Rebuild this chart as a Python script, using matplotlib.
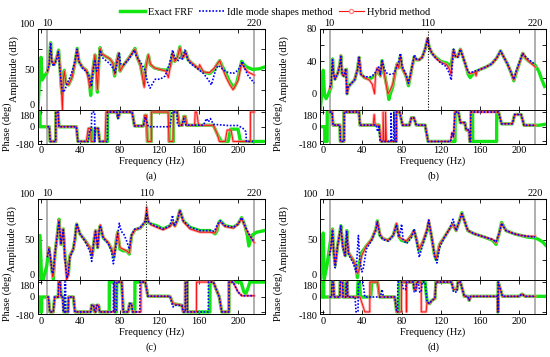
import matplotlib
matplotlib.use("Agg")
import matplotlib.pyplot as plt
from matplotlib.lines import Line2D
import numpy as np

plt.rcParams['font.family'] = ['Liberation Serif', 'DejaVu Serif']
plt.rcParams['axes.unicode_minus'] = False

# ---- data: (frequency Hz, value) ----
# panel (a)
A_EXACT_AMP = [(-3, 0), (-1.5, 37), (0, 65), (1.2, 37), (4, 43), (6.5, 47), (8.3, 56), (9.8, 83), (11, 60), (13.5, 56),
               (16.3, 66), (17.9, 74), (19.2, 55), (20.6, 29), (21.6, 20), (22.7, 40), (23.7, 49), (25.3, 33), (28, 31),
               (31.5, 40), (34.5, 58), (36.8, 76), (38.5, 60), (42, 53), (46, 49), (48.5, 42), (50.5, 18), (51.8, 40),
               (53.3, 55), (54.8, 68), (56, 50), (57.3, 22), (58.6, 55), (60, 77), (62, 69), (66, 66), (70, 63), (73, 58),
               (74.8, 42), (76.5, 58), (78.8, 70), (80.3, 48), (83, 54), (88, 62), (92.5, 70), (95.4, 76), (98, 64),
               (101, 55), (103.5, 40), (104.8, 32), (106.5, 55), (109, 68), (111, 56), (115, 52), (121, 50), (128, 49),
               (131.5, 55), (133.6, 70), (135.8, 60), (138.5, 65), (141, 78), (143.5, 64), (145, 66), (146.8, 72),
               (149.5, 62), (153, 58), (158, 53), (165, 47), (171, 45), (176, 50), (179, 57), (181.5, 61), (184, 54),
               (187, 47), (191.5, 35), (196, 27), (199, 35), (201.5, 48), (203.7, 60), (206, 56), (209, 53), (215, 50),
               (222, 51), (227, 53)]
A_IDLE_AMP = [(6.5, 48), (8.3, 56), (9.8, 83), (11, 60), (12.5, 54), (15.9, 62), (17.6, 72), (19.3, 49), (21, 29),
              (22.7, 22), (24.4, 25), (26, 31), (31, 45), (34.5, 60), (36.5, 75), (38.5, 60), (42, 52), (48, 45),
              (50.5, 33), (51.4, 29), (53, 49), (54.8, 62), (56.5, 48), (58, 52), (59.9, 74), (62, 65), (66, 61),
              (70, 57), (74, 50), (75.5, 46), (77.5, 60), (79.5, 70), (80.8, 57), (84, 56), (88.7, 62), (92, 68),
              (94.5, 74), (97, 66), (99, 63), (102, 57), (105.6, 49), (108, 35), (110.7, 27), (113, 32), (116, 38),
              (121, 38), (126, 42), (130, 55), (133.7, 74), (136, 64), (139.4, 61), (141.5, 65), (143.5, 63),
              (146.1, 74), (149, 62), (152, 57), (158, 52), (165, 45), (170, 37), (173, 31), (175.5, 42), (177.5, 50),
              (179.8, 55), (182, 53), (188, 47), (195, 45), (200, 49), (204.4, 60), (206.5, 52), (210, 43), (216.5, 33)]
A_HYBRID_AMP = [(6.5, 47), (8.3, 56), (9.8, 82), (11, 60), (13.5, 56), (16.3, 66), (17.9, 73), (19.2, 54), (20.6, 28),
                (21.8, 0), (22.7, 38), (23.7, 48), (25.3, 33), (28, 31), (31.5, 40), (34.5, 58), (36.8, 75), (38.5, 60),
                (42, 53), (46, 49), (48.5, 36), (49.5, 27), (51, 36), (53.3, 55), (54.8, 68), (56, 50), (57.3, 25),
                (58.6, 55), (60, 76), (62, 69), (66, 66), (70, 63), (73, 58), (74.8, 44), (76.5, 58), (78.8, 70),
                (80.3, 48), (83, 54), (88, 62), (92.5, 70), (95.4, 75), (98, 64), (101, 55), (103.5, 38), (104.8, 28),
                (106.5, 52), (109, 68), (111, 57), (115, 52), (121, 50), (127, 48), (129.3, 40), (131.5, 55),
                (133.6, 70), (135.8, 60), (138.5, 65), (141, 77), (143.5, 64), (145, 66), (146.8, 72), (149.5, 62),
                (153, 58), (158, 53), (160, 50), (161, 56), (165, 47), (171, 46), (176, 52), (179, 57), (181.5, 61),
                (184, 52), (188, 40), (191.8, 31), (195, 25), (200.3, 37), (203.7, 58), (206, 53), (210, 47), (216.5, 43)]
A_EXACT_PH = [(-3, 180), (-1, 180), (-0.9, 0), (8.5, 0), (9.3, -180), (15, -180), (15.1, 180), (17.3, 180), (18.3, 0),
              (36, 0), (37.5, -180), (47.5, -180), (49, -20), (51, -20), (51.5, -180), (54, -180), (55, -20), (58, -20),
              (59.5, -180), (67.5, -180), (67.6, 180), (77, 180), (78.5, 110), (80, 180), (92.5, 180), (95, 10),
              (104, 10), (105.5, 140), (107, 140), (108, -180), (112, -180), (112.1, 180), (130, 180), (130.1, -180),
              (134.5, -180), (134.6, 180), (138.5, 180), (140.5, 18), (143.5, 18), (145, 126), (146.5, 126), (148, 18),
              (175, 18), (179, -90), (183, -180), (190, -180), (192.5, -30), (200, -30), (202.5, -180), (227, -180)]
A_IDLE_PH = [(6.5, 0), (8.5, 0), (9.3, -180), (15, -180), (15.1, 180), (17.3, 180), (18.3, 0), (36, 0), (37.5, -180),
             (48, -180), (49.5, -40), (51.2, -40), (51.5, 180), (54.5, 180), (54.6, -180), (55, -20), (58, -20),
             (59.5, -180), (67.5, -180), (67.6, 180), (77, 180), (78, 100), (80, 180), (92.5, 180), (95, 10), (104, 10),
             (106, 120), (107.5, 60), (109, 0), (131, 0), (133, 180), (138, 180), (138.5, 40), (140, 10), (143, 20),
             (145, 100), (147, 20), (165, 20), (168, 100), (170, 60), (172, 100), (175, 30), (190, 15), (200, 15),
             (205, -20), (208, -60), (208.5, -180), (216.5, -180)]
A_HYBRID_PH = [(6.5, 0), (8.5, 0), (9.3, -180), (15, -180), (15.1, 180), (17.3, 180), (18.3, 0), (36, 0), (37.5, -180),
               (46, -180), (48, -20), (50.5, -20), (51, -180), (54, -180), (55, -20), (58, -20), (59.5, -180),
               (65, -180), (66, 180), (77, 180), (78.5, 110), (80, 180), (92.5, 180), (95, 10), (104, 10), (105.5, 140),
               (107, 140), (108, -180), (112, -180), (112.1, 180), (129, 180), (130, -180), (134, -180), (134.6, 180),
               (138.5, 180), (140.5, 18), (143.5, 18), (145, 126), (146.5, 126), (148, 18), (156, 18), (156.5, 180),
               (158, 180), (160, 18), (175, 18), (179, -90), (181, -180), (187, -180), (189, -40), (193, -40),
               (195, -180), (212.5, -180), (212.6, 180), (216.5, 180)]

# panel (b)
B_EXACT_AMP = [(-3, -20), (-1, 10), (0, 29), (1.3, -2), (3, -6), (5.3, 0), (8, 8), (9.5, 43), (10.5, 25), (12, 18),
               (15, 26), (17, 36), (18, 47), (19.3, 24), (21, 22), (23, 30), (23.8, 30), (24.3, 0), (25.5, 8), (28, 12),
               (32, 17), (35, 30), (36.6, 45), (38.5, 24), (42, 20), (47.5, 18), (52, 22), (55, 26), (57, 31),
               (58.3, 22), (60, 41), (62.5, 24), (64.5, 12), (66, 2), (67, -7), (68.5, 0), (71, 9), (74, 30), (75.5, 37),
               (77, 32), (78.8, 47), (80.5, 32), (84.5, 22), (87, 10), (89, 22), (91, 35), (93, 46), (95, 42), (98, 42),
               (101, 45), (104, 55), (106.5, 68), (108, 58), (111, 50), (115, 45), (120, 40), (126, 38), (130, 34),
               (131.5, 42), (133, 54), (135, 46), (137.5, 46), (140, 55), (142.5, 46), (145.5, 35), (148, 24),
               (150, 20), (152.5, 24), (155, 27), (160, 30), (166, 33), (172, 37), (177, 44), (181, 53), (184, 46),
               (188, 37), (191.5, 27), (194.6, 16), (197, 26), (200, 37), (203.6, 50), (206.5, 44), (210, 40),
               (216.5, 35), (220, 28), (223, 18), (226, 9)]
B_IDLE_AMP = [(6.5, 8), (8, 12), (9.5, 42), (10.5, 25), (12, 18), (15, 26), (17, 36), (18, 46), (19.3, 24), (21, 22),
              (23, 31), (24.3, 0), (25.5, 9), (28, 12), (32, 17), (35, 30), (36.6, 45), (38.5, 24), (42, 21), (48, 21),
              (52, 24), (55, 30), (56.5, 33), (58.3, 24), (60, 42), (62, 32), (64, 26), (68, 24), (72, 25), (75, 33),
              (77, 40), (78.8, 50), (80.5, 34), (84.5, 24), (87, 13), (89, 24), (91, 36), (93, 48), (95, 43), (98, 42),
              (101, 45), (104, 55), (106.5, 68), (108, 58), (111, 50), (115, 44), (120, 38), (125, 34), (128.5, 26),
              (130.7, 17), (132, 40), (133, 55), (135, 46), (137.5, 45), (140, 55), (142.5, 46), (145.5, 35), (148, 27),
              (150, 26), (155, 28), (160, 30), (166, 33), (172, 37), (177, 44), (181, 53), (184, 46), (188, 37),
              (191.5, 27), (194.6, 18), (197, 28), (200, 38), (203.6, 50), (206.5, 46), (210, 42), (216.5, 36)]
B_HYBRID_AMP = [(6.5, 6), (8, 10), (9.5, 42), (10.5, 25), (12, 18), (15, 26), (17, 36), (18, 47), (19.3, 24), (21, 22),
                (23, 30), (24.3, 0), (25.5, 8), (28, 12), (32, 17), (35, 30), (36.6, 45), (38.5, 24), (42, 20), (47, 17),
                (50, 12), (52.4, 0), (53.5, 26), (55, 32), (57, 28), (58.3, 22), (60, 40), (62.5, 24), (64.5, 10),
                (66, 0), (67, 2), (68.5, 5), (71, 12), (74, 30), (75.5, 37), (77, 32), (78.8, 47), (80.5, 32),
                (84.5, 22), (87, 12), (89, 22), (91, 35), (93, 46), (95, 42), (98, 42), (101, 45), (104, 55),
                (106.5, 69), (108, 58), (111, 50), (115, 44), (120, 39), (126, 36), (129, 30), (130.5, 24), (131.5, 42),
                (133, 54), (135, 46), (137.5, 46), (140, 55), (142.5, 46), (145.5, 35), (148, 26), (150, 25), (155, 27),
                (156, 22), (157, 28), (160, 30), (166, 33), (172, 37), (177, 44), (181, 53), (184, 46), (188, 37),
                (191.5, 27), (194.6, 17), (197, 27), (200, 37), (203.6, 50), (206.5, 44), (210, 40), (216.5, 33)]
B_EXACT_PH = [(-3, 0), (1.5, 0), (1.6, -180), (4, -180), (4.1, 180), (9, 180), (10, 20), (17, 20), (17.5, -180),
              (21, -180), (21.1, 180), (36.5, 180), (37.5, 20), (57, 20), (59, -180), (74.5, -180), (74.6, 180),
              (78, 180), (81, 20), (88, 20), (90, 110), (92.5, 110), (95, 20), (104, 20), (107, -180), (134.5, -180),
              (134.6, 180), (138, 180), (140, 50), (144.5, 50), (146, -40), (149, -40), (149.5, -180), (151, -180),
              (151.1, 180), (152.5, 180), (152.6, -180), (177, -180), (177.1, 180), (179, 180), (182, 36), (193, 36),
              (195.5, 150), (202, 150), (205, 18), (220, 18), (227, 30)]
B_IDLE_PH = [(6.5, 180), (9, 180), (10, 20), (17, 20), (17.5, -180), (21.5, -180), (21.6, 180), (36.5, 180), (37.5, 20),
             (54, 20), (55.5, -60), (57, 20), (58, -180), (69, -180), (69.1, 180), (70, -180), (72, -180), (72.1, 180),
             (73, -180), (74.5, -180), (74.6, 180), (78, 180), (81, 20), (88, 20), (90, 110), (92.5, 110), (95, 20),
             (104, 20), (107, -180), (130, -180), (131.5, -80), (133, -120), (134.5, 180), (138, 180), (140, 50),
             (144.5, 50), (146, -40), (149, -40), (149.5, -180), (150.5, -180), (150.6, 180), (179, 180), (182, 36),
             (193, 36), (195.5, 150), (202, 150), (205, 18), (216.5, 18)]
B_HYBRID_PH = [(6.5, 180), (9, 180), (10, 20), (17, 20), (17.5, -180), (21, -180), (21.1, 180), (36.5, 180),
               (37.5, 20), (51, 20), (52, 150), (53, 20), (57, 20), (59, -180), (61, -180), (61.1, 180), (62, -180),
               (63.5, -180), (63.6, 180), (64.5, -180), (74.5, -180), (74.6, 180), (78, 180), (81, 20), (88, 20),
               (90, 110), (92.5, 110), (95, 20), (104, 20), (107, -180), (130, -180), (131.5, -70), (133, -130),
               (134.5, 180), (138, 180), (140, 50), (144.5, 50), (146, -40), (149, -40), (149.5, -180), (150.5, -180),
               (150.6, 180), (179, 180), (182, 36), (193, 36), (195.5, 150), (202, 150), (205, 18), (216.5, 18)]

# panel (c)
C_EXACT_AMP = [(-3, 0), (-1, 55), (0.7, 0), (2.4, 1), (5.8, 17), (8.1, 40), (9.1, 30), (12.5, 1), (14.2, 32),
               (16.5, 55), (18.3, 75), (20.3, 44), (22.7, 63), (24.4, 28), (27.7, 6), (29.4, 30), (32.8, 38),
               (34.5, 50), (36.2, 69), (39.6, 57), (44.7, 49), (49.7, 40), (52, 30), (54, 50), (55.4, 61), (57.5, 40),
               (59, 61), (60.2, 67), (63.2, 52), (68.3, 46), (71.7, 38), (74, 28), (75.8, 44), (77.8, 59), (80.2, 38),
               (83.6, 36), (87, 36), (89.7, 32), (92, 55), (95.4, 62), (100.5, 64), (105.6, 71), (107.3, 80), (109, 71),
               (112, 69), (117.4, 67), (124, 63), (131, 67), (133.6, 71), (136, 67), (138.5, 74), (141, 86),
               (144.5, 73), (151.3, 65), (161.4, 61), (171.6, 61), (176.7, 57), (178.5, 60), (180.5, 71), (182, 73),
               (186.8, 67), (195.3, 65), (200, 69), (203.7, 77), (207, 67), (209.5, 55), (211, 42), (213.8, 55),
               (218.9, 59), (227, 61)]
C_IDLE_AMP = [(6.5, 28), (8.1, 38), (9.1, 34), (11.5, 8), (12.5, 10), (14.2, 32), (16.5, 55), (18.3, 73), (20.3, 44),
              (22.7, 62), (24.4, 25), (26.5, 2), (27.7, 8), (29.4, 28), (32.8, 38), (34.5, 52), (36.2, 70), (39.6, 57),
              (44.7, 48), (49.7, 35), (51.5, 23), (53, 42), (55.4, 60), (57.5, 40), (59, 60), (60.2, 67), (63.2, 52),
              (68.3, 45), (71.7, 35), (73.5, 20), (75.8, 40), (77.8, 55), (79.5, 70), (81.5, 60), (84, 57), (87, 48),
              (89.7, 38), (92, 56), (95.4, 63), (100.5, 64), (105.6, 72), (107.3, 82), (109, 72), (112, 69),
              (117.4, 66), (124, 63), (131, 67), (133.6, 80), (135, 67), (138.5, 74), (141, 86), (144.5, 73),
              (151.3, 65), (161.4, 61), (171.6, 61), (176, 60), (178.5, 67), (180.5, 71), (182, 73), (186.8, 67),
              (195.3, 65), (200, 69), (203.7, 77), (207, 67), (211, 57), (216.5, 47)]
C_HYBRID_AMP = [(6.5, 30), (8.1, 40), (9.1, 32), (12, 4), (12.5, 6), (14.2, 32), (16.5, 55), (18.3, 74), (20.3, 44),
                (22.7, 63), (24.4, 28), (26, 0), (27.7, 6), (29.4, 30), (32.8, 38), (34.5, 50), (36.2, 69), (39.6, 57),
                (44.7, 49), (49.7, 40), (52, 30), (54, 50), (55.4, 61), (57.5, 40), (59, 61), (60.2, 68), (63.2, 53),
                (68.3, 46), (71.7, 38), (74, 30), (75.8, 44), (77.8, 59), (80.2, 40), (83.6, 38), (87, 36), (89.7, 33),
                (92, 55), (95.4, 62), (100.5, 64), (105.6, 72), (107.3, 90), (109, 72), (112, 68), (117.4, 65),
                (124, 62), (131, 66), (133.6, 71), (136, 66), (138.5, 74), (141, 86), (144.5, 72), (151.3, 63),
                (161.4, 59), (171.6, 59), (176.7, 58), (180.5, 70), (182, 72), (186.8, 66), (195.3, 64), (200, 69),
                (203.7, 76), (207, 66), (211, 56), (216.5, 46)]
C_EXACT_PH = [(-3, 0), (-1, 0), (-0.9, -180), (0.7, -180), (0.8, 0), (7.5, 0), (9, -180), (12.5, -180), (14, 0),
              (17.6, 0), (18, 180), (19.5, 180), (20.5, 0), (22.5, 0), (23, -180), (27.5, -180), (28, 0), (33, 0),
              (34.5, -180), (50.5, -180), (51.5, -100), (53.5, -100), (54.5, -180), (55.5, -180), (56.5, -100),
              (58.5, -100), (59.5, -180), (69.3, -180), (69.4, 180), (75, 180), (75.1, -180), (76.5, -180), (77, 180),
              (82, 180), (83.5, -180), (88.5, -180), (90, -80), (92, -80), (93, -180), (95.3, -180), (95.4, 180),
              (106, 180), (108.5, 10), (131, 8), (134, -80), (143, -100), (144.5, -180), (146.5, -180), (146.6, 180),
              (148.5, 180), (148.6, -180), (171.5, -180), (171.6, 180), (175, 180), (179, 60), (181, 0),
              (183.5, -180), (190.8, -180), (190.9, 180), (203, 180), (206, 60), (208, 40), (210, 100), (212, 180),
              (227, 180)]
C_IDLE_PH = [(6.5, 0), (7.5, 0), (9, -180), (12.5, -180), (14, 0), (17.6, 0), (18, 180), (19.5, 180), (20.5, 0),
             (22, 0), (22.5, -180), (24, -180), (24.1, 180), (25, 180), (25.1, -180), (27.5, -180), (28, 0), (33, 0),
             (34.5, -180), (50.5, -180), (51.5, -100), (53.5, -100), (54.5, -180), (55.5, -180), (56.5, -100),
             (58.5, -100), (59.5, -180), (73.5, -180), (73.6, 180), (74.5, 180), (74.6, -180), (76.5, -180), (77, 180),
             (82, 180), (83.5, -180), (88.5, -180), (90, -80), (92, -80), (93, -180), (100.4, -180), (100.5, 180),
             (106, 180), (108.5, 10), (131, 8), (134, -120), (136, -100), (143, -100), (144.5, -180), (146.5, -180),
             (146.6, 180), (148.5, 180), (148.6, -180), (169.9, -180), (170, 180), (175, 180), (179, 60), (181, 0),
             (183.5, -180), (190.8, -180), (190.9, 180), (195, 180), (200, 60), (204, 15), (216.5, 15)]
C_HYBRID_PH = [(6.5, 0), (7.5, 0), (9, -180), (12.5, -180), (14, 0), (17.6, 0), (18, 180), (19.5, 180), (20.5, 0),
               (22.5, 0), (23, -180), (27.5, -180), (28, 0), (33, 0), (34.5, -180), (50.5, -180), (51.5, -100),
               (53.5, -100), (54.5, -180), (55.5, -180), (56.5, -100), (58.5, -100), (59.5, -180), (75, -180),
               (75.1, 180), (82, 180), (83.5, -180), (88.5, -180), (90, -80), (92, -80), (93, -180), (101.5, -180),
               (101.6, 180), (106, 180), (108.5, 10), (131, 8), (134, -80), (143, -100), (144.5, -180), (146.5, -180),
               (146.6, 180), (148.5, 180), (148.6, -180), (157.8, -180), (157.9, 180), (175, 180), (179, 60), (181, 0),
               (183.5, -180), (190.8, -180), (190.9, 180), (195, 180), (200, 60), (204, 15), (216.5, 15)]

# panel (d)
D_EXACT_AMP = [(-3, 0), (-1, 30), (0, 58), (1, 1), (3.8, 18), (7, 45), (9.5, 63), (10.5, 38), (12.2, 18), (14.6, 42),
               (16.5, 55), (18, 67), (20, 42), (22.4, 30), (24, 61), (25.7, 34), (30.8, 24), (33.5, 17), (34.9, 3),
               (36.5, 18), (39.3, 34), (44, 42), (49.4, 50), (53.8, 63), (55.2, 73), (57.9, 55), (61, 51), (66.4, 49),
               (71.4, 55), (74.8, 69), (77.5, 53), (79.9, 49), (85, 47), (90, 55), (92.7, 61), (95, 51), (97.8, 36),
               (101.9, 47), (106, 61), (107.7, 71), (110.4, 55), (113.7, 30), (115.4, 25), (118.8, 44), (123.8, 53),
               (128.9, 63), (132.3, 69), (135.7, 61), (139, 73), (141.5, 83), (144.2, 73), (145.9, 67), (147.6, 61),
               (154.3, 57), (164.5, 53), (172.9, 49), (176.4, 44), (179.7, 58), (182.1, 71), (186.5, 61), (195, 57),
               (201.7, 55), (208.5, 53), (216.3, 52), (220, 50), (224, 47), (227, 43)]
D_IDLE_AMP = [(6.5, 30), (7.8, 40), (9.5, 62), (10.5, 38), (12.2, 15), (14.6, 42), (16.5, 55), (18, 67), (20, 40),
              (22.4, 30), (24, 60), (25.7, 32), (30.8, 20), (33.5, 10), (35.9, 55), (37.3, 25), (39.5, 10), (41, 15),
              (44, 38), (49.4, 49), (53.8, 62), (55.2, 72), (57.9, 55), (61, 50), (66.4, 48), (71.4, 55), (74.8, 68),
              (77, 53), (78.5, 58), (80, 69), (81.5, 50), (85, 45), (90, 52), (92.7, 63), (95, 50), (98, 28),
              (101.9, 45), (106, 61), (107.7, 74), (110.4, 55), (113.7, 30), (116, 21), (118.8, 40), (123.8, 53),
              (128.9, 63), (132.5, 75), (135.7, 61), (139, 73), (141.5, 82), (144.2, 73), (145.9, 67), (147.6, 61),
              (154.3, 57), (164.5, 53), (172.9, 50), (176.4, 47), (179.7, 58), (182.1, 70), (186.5, 61), (195, 57),
              (201.7, 55), (208.5, 54), (216.3, 53)]
D_HYBRID_AMP = [(6.5, 33), (7.8, 40), (9.5, 62), (10.5, 38), (12.2, 18), (14.6, 42), (16.5, 55), (18, 66), (20, 42),
                (22.4, 30), (24, 60), (25.7, 34), (30.8, 24), (33.5, 16), (35, 8), (36.5, 12), (39.3, 30), (44, 42),
                (49.4, 50), (53.8, 63), (55.2, 72), (57.9, 57), (61, 51), (66.4, 49), (71.4, 55), (74.8, 70),
                (77.5, 53), (79.9, 51), (85, 48), (90, 55), (92.7, 61), (95, 51), (97.8, 38), (101.9, 48), (106, 63),
                (107.7, 74), (110.4, 55), (113.7, 31), (115.4, 26), (118.8, 44), (123.8, 53), (128.9, 63), (132.3, 69),
                (135.7, 61), (139, 73), (141.5, 82), (144.2, 73), (145.9, 67), (147.6, 61), (154.3, 57), (164.5, 53),
                (172.9, 50), (176.4, 46), (179.7, 58), (182.1, 70), (186.5, 61), (195, 57), (201.7, 55), (208.5, 54),
                (216.3, 54)]
D_EXACT_PH = [(-3, 0), (-0.5, 0), (-0.4, 180), (0.5, 180), (0.6, 0), (8.5, 0), (9, 180), (10.5, 180), (11, 0), (17, 0),
              (17.3, 180), (19.8, 180), (20.2, 0), (23.2, 0), (23.5, 180), (24.6, 180), (25, 0), (35, 0), (35.5, 180),
              (37, 180), (38, 0), (48.5, 0), (49.5, 180), (55.5, 180), (57.5, 0), (73, 0), (75, -180), (77.4, -180),
              (77.5, 180), (92, 180), (93, 90), (94.5, 90), (95.5, 180), (104, 180), (106, -60), (108.5, -80),
              (111, -40), (114, -20), (115, 180), (131, 180), (133, 90), (136.5, 90), (137.5, 180), (140, 180),
              (144, 8), (147.5, 8), (149, -40), (150.5, 8), (178, 8), (178.1, -180), (178.5, -180), (178.6, 180),
              (183, 8), (200, 8), (203, 35), (206, 8), (227, 8)]
D_IDLE_PH = [(6.5, 0), (8.5, 0), (9, 180), (10.5, 180), (11, 0), (17, 0), (17.3, 180), (19.8, 180), (20.2, 0),
             (23.2, 0), (23.5, 180), (24.6, 180), (25, 0), (32.5, 0), (33.5, -180), (35.5, -180), (36, 180),
             (40.5, 180), (42.5, 0), (58.5, 0), (60, 90), (61.5, 0), (73, 0), (75, -180), (76, -180), (76.1, 180),
             (80, 180), (82, 90), (84, 90), (85, 180), (92, 180), (93, 60), (94.5, 60), (95.5, 180), (97, 180),
             (98.5, 60), (100, 60), (101, 180), (104, 180), (106, -60), (108.5, -80), (111, -40), (114, -20),
             (115, 180), (131, 180), (133, 60), (136.5, 60), (137.5, 180), (140, 180), (144, 8), (147.5, 8),
             (149, -40), (150.5, 8), (178, 8), (178.1, -180), (178.5, -180), (178.6, 180), (183, 8), (200, 8),
             (203, 35), (206, 8), (216.5, 8)]
D_HYBRID_PH = [(6.5, 0), (8.5, 0), (9, 180), (10.5, 180), (11, 0), (17, 0), (17.3, 180), (19.8, 180), (20.2, 0),
               (23.2, 0), (23.5, 180), (24.6, 180), (25, 0), (37.5, 0), (42.5, -180), (47.5, -180), (47.6, 180),
               (55.5, 180), (57.5, 0), (73, 0), (75, -180), (79.9, -180), (80, 180), (84.7, 180), (84.8, -180),
               (85.2, -180), (85.3, 180), (92, 180), (93, 90), (94.5, 90), (95.5, 180), (100, 180), (100.1, -180),
               (105, -180), (106, -60), (108.5, -80), (111, -40), (114, -20), (115, 180), (131, 180), (133, 90),
               (136.5, 90), (137.5, 180), (140, 180), (144, 8), (147.5, 8), (149, -40), (150.5, 8), (178, 8),
               (178.1, -180), (178.5, -180), (178.6, 180), (183, 8), (200, 8), (203, 35), (206, 8), (216.5, 8)]

TOP_TICKS = [6.5, 107, 216.5]
TOP_LABELS = ['10', '110', '220']

GREEN = '#12e612'
BLUE = '#0000ff'
RED = '#ff1010'
PINK = '#ff8a8a'
W, H = 550, 357
XLIM = (-3.3, 227.4)


def rect(l, t, r, b):
    return [l / W, 1 - b / H, (r - l) / W, (b - t) / H]


def curve(ax, pts, kind):
    pts = np.array(pts, dtype=float)
    if kind == 'exact':
        ax.plot(pts[:, 0], pts[:, 1], color=GREEN, lw=2.4, zorder=2, solid_joinstyle='round')
    elif kind == 'hybrid':
        ax.plot(pts[:, 0], pts[:, 1], color=PINK, lw=2.0, alpha=0.75, zorder=3)
        ax.plot(pts[:, 0], pts[:, 1], color=RED, lw=0.7, zorder=4)
    else:
        ax.plot(pts[:, 0], pts[:, 1], color=BLUE, lw=1.2, ls=(0, (1, 1)), zorder=5)


def style(ax):
    ax.tick_params(direction='in', top=True, right=True, labelsize=7.5, length=3, width=0.6, pad=2)
    for s in ax.spines.values():
        s.set_linewidth(0.7)


def panel(box, amp, phase, ylim, yticks, ylabels, top_idx, dotted, tag, lab_x, shift_edges):
    l, t, r, b, mid = box
    ax = plt.axes(rect(l, t, r, mid))
    axp = plt.axes(rect(l, mid, r, b))
    for pts, kind in zip(amp, ['exact', 'hybrid', 'idle']):
        curve(ax, pts, kind)
    for pts, kind in zip(phase, ['exact', 'hybrid', 'idle']):
        curve(axp, pts, kind)

    for a in (ax, axp):
        a.set_xlim(*XLIM)
        a.set_xticks([0, 40, 80, 120, 160, 200])
        style(a)
        a.axvline(TOP_TICKS[0], color='#9a9a9a', lw=1.1, zorder=1)
        a.axvline(TOP_TICKS[2], color='#9a9a9a', lw=1.1, zorder=1)
    if dotted:
        ax.axvline(TOP_TICKS[1], color='k', lw=0.8, ls=(0, (1, 1.5)), zorder=6)

    ax.set_ylim(*ylim)
    ax.set_yticks(yticks)
    ax.set_yticklabels(ylabels)
    ax.tick_params(labelbottom=False)
    if shift_edges:
        lbls = ax.get_yticklabels()
        lbls[0].set_va('bottom')
        lbls[-1].set_va('bottom')
    ax.set_ylabel('Amplitude (dB)', fontsize=7.5)
    ax.yaxis.set_label_coords(lab_x[0], 0.5)

    axp.set_ylim(-205, 205)
    axp.set_yticks([-180, 0, 180])
    plbls = axp.get_yticklabels()
    plbls[0].set_va('top')
    plbls[2].set_va('top')
    axp.set_ylabel('Phase (deg)', fontsize=7.5)
    axp.yaxis.set_label_coords(lab_x[1], 0.5)
    axp.set_xlabel('Frequency (Hz)', fontsize=7.5, labelpad=1)

    sec = ax.secondary_xaxis('top')
    sec.set_xticks([TOP_TICKS[i] for i in top_idx])
    sec.set_xticklabels([TOP_LABELS[i] for i in top_idx])
    sec.tick_params(length=0, labelsize=7.5, pad=1)

    fig.text((l + r) / 2 / W, 1 - (b + 33) / H, tag, ha='center', va='center', fontsize=7.5)
    return ax, axp


fig = plt.figure(figsize=(5.5, 3.57), dpi=100)

amp_ticks = [0, 25, 50, 75, 100]
amp_labels = ['0', '', '50', '', '100']
panel((37.7, 29, 265, 143.5, 110), [A_EXACT_AMP, A_HYBRID_AMP, A_IDLE_AMP], [A_EXACT_PH, A_HYBRID_PH, A_IDLE_PH],
      (0, 100), amp_ticks, amp_labels, [0, 2], False, '(a)', (-0.082, -0.115), True)
panel((320, 29, 546, 143.5, 110), [B_EXACT_AMP, B_HYBRID_AMP, B_IDLE_AMP], [B_EXACT_PH, B_HYBRID_PH, B_IDLE_PH],
      (-20, 80), [-20, 0, 20, 40, 60, 80], ['', '0', '', '40', '', '80'], [0, 1, 2], True, '(b)',
      (-0.137, -0.165), False)
panel((37.7, 199, 265, 314, 280), [C_EXACT_AMP, C_HYBRID_AMP, C_IDLE_AMP], [C_EXACT_PH, C_HYBRID_PH, C_IDLE_PH],
      (0, 100), amp_ticks, amp_labels, [0, 1, 2], True, '(c)', (-0.092, -0.115), True)
panel((320, 199, 546, 314, 280), [D_EXACT_AMP, D_HYBRID_AMP, D_IDLE_AMP], [D_EXACT_PH, D_HYBRID_PH, D_IDLE_PH],
      (0, 100), amp_ticks, amp_labels, [0, 2], False, '(d)', (-0.137, -0.165), True)

handles = [Line2D([], [], color=GREEN, lw=2.5),
           Line2D([], [], color=BLUE, lw=1.2, ls=(0, (1, 1))),
           Line2D([], [], color=RED, lw=0.8, marker='o', ms=3, mfc='white', mec=PINK, markevery=[1])]
fig.legend(handles, ['Exact FRF', 'Idle mode shapes method', 'Hybrid method'], loc='upper center',
           bbox_to_anchor=(0.5, 1.005), ncol=3, frameon=False, fontsize=7.5, handlelength=2.4,
           columnspacing=0.6, handletextpad=0.3)

fig.savefig('out.png', dpi=100)
